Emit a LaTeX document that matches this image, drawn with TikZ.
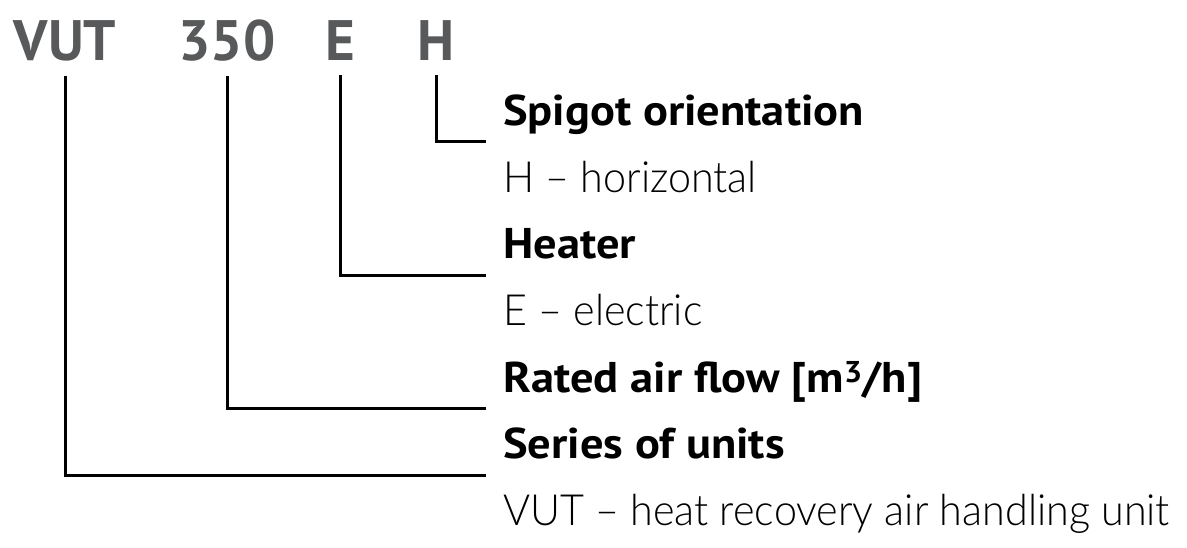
\documentclass[tikz,border=0pt]{standalone}
\usepackage{fontspec}
\setmainfont{PT Sans}
\newfontfamily\descfont[UprightFont=* Light,FakeStretch=0.96]{Lato}
\newfontfamily\headfont[FakeStretch=1.08]{PT Sans}
\usepackage{xcolor}
\usetikzlibrary{positioning}
\definecolor{codegray}{HTML}{58595B}

\begin{document}
\begin{tikzpicture}[x=1pt,y=-1pt,
    code/.style={font=\fontsize{57}{57}\selectfont\bfseries,text=codegray,anchor=base,inner sep=0pt},
    head/.style={font=\fontsize{43}{43}\selectfont\headfont\bfseries,anchor=base west,inner sep=0pt},
    desc/.style={font=\fontsize{43}{43}\selectfont\descfont,anchor=base west,inner sep=0pt},
    link/.style={line width=3pt,shorten <=15pt}]
        \useasboundingbox (0,0) rectangle (1187,547);
        % model code
        \node[code] (vut) at (65,60) {VUT};
        \node[code] (flow) at (227,60) {350};
        \node[code] (heat) at (340,60) {E};
        \node[code] (spig) at (436,60) {H};
        % explanations
        \node[head] (spighead) at (503,125) {Spigot orientation};
        \node[desc] (spigdesc) at (503,192) {H – horizontal};
        \node[head] (heathead) at (503,258) {Heater};
        \node[desc] (heatdesc) at (503,325) {E – electric};
        \node[head] (flowhead) at (503,392) {Rated air flow [m\textsuperscript{3}/h]};
        \node[head] (vuthead) at (503,458) {Series of units};
        \node[desc] (vutdesc) at (503,525) {VUT – heat recovery air handling unit};
        % line ends
        \coordinate (spigend) at (486,141);
        \coordinate (heatend) at (486,275);
        \coordinate (flowend) at (486,408);
        \coordinate (vutend) at (486,475);
        \draw[link] (spig.south) |- (spigend);
        \draw[link] (heat.south) |- (heatend);
        \draw[link] (flow.south) |- (flowend);
        \draw[link] (vut.south) |- (vutend);
\end{tikzpicture}
\end{document}
